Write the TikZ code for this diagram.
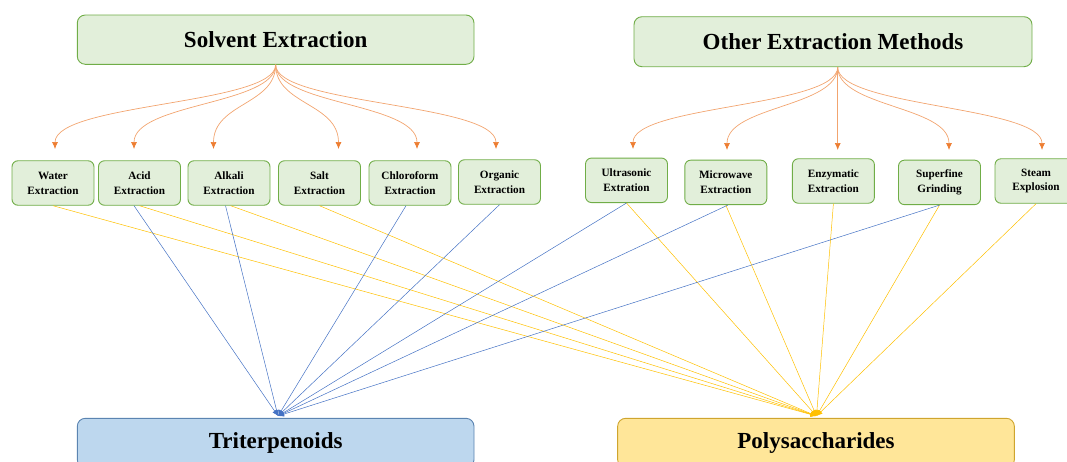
\documentclass[tikz,border=0pt]{standalone}
\makeatletter
\newif\ifpalat
\IfFileExists{t1ppl.fd}{\IfFileExists{pplb8t.tfm}{\palattrue}{}}{}
\ifpalat
  \usepackage[T1]{fontenc}
  \renewcommand{\rmdefault}{ppl}
\else
  \usepackage{fontspec}
  \setmainfont{Liberation Serif}
\fi
\makeatother
\usetikzlibrary{arrows.meta}
\definecolor{gfill}{HTML}{E2EFDA}
\definecolor{gdraw}{HTML}{70AD47}
\definecolor{bfill}{HTML}{BDD7EE}
\definecolor{bdraw}{HTML}{5B84B1}
\definecolor{yfill}{HTML}{FFE699}
\definecolor{ydraw}{HTML}{CFA52E}
\definecolor{bline}{HTML}{4472C4}
\definecolor{yline}{HTML}{FFC000}
\definecolor{oline}{HTML}{ED7D31}
\tikzset{
  titlebox/.style={draw=gdraw, fill=gfill, line width=0.9pt, rounded corners=8pt,
    inner sep=0pt, font=\fontsize{23}{27}\selectfont\bfseries},
  resbox/.style={line width=0.9pt, rounded corners=8pt, inner sep=0pt,
    minimum width=396.7pt, minimum height=49.4pt, font=\fontsize{23}{27}\selectfont\bfseries},
  methodbox/.style={draw=gdraw, fill=gfill, line width=0.9pt, rounded corners=6pt,
    inner sep=0pt, minimum width=82pt, minimum height=44.5pt, align=center,
    font=\fontsize{11.2}{14.8}\selectfont\bfseries},
  fanarrow/.style={draw=oline!70!white, line width=0.7pt,
    -{Latex[length=7pt,width=6pt,color=oline]}},
  tline/.style={draw=bline, line width=0.5pt, -{Latex[length=6pt,width=5pt]}},
  pline/.style={draw=yline, line width=0.5pt, -{Latex[length=6pt,width=5pt]}}
}
\begin{document}
\begin{tikzpicture}[x=1pt,y=-1pt]
\useasboundingbox (0,0) rectangle (1067,461);
% title boxes
\node[titlebox, minimum width=396.7pt, minimum height=49.3pt] (solv) at (275.65,39.65) {Solvent Extraction};
\node[titlebox, minimum width=398pt, minimum height=50pt] (other) at (833,41.7) {Other Extraction Methods};
% result boxes
\node[resbox, draw=bdraw, fill=bfill] (tri) at (275.65,443) {Triterpenoids};
\node[resbox, draw=ydraw, fill=yfill] (poly) at (816,443) {Polysaccharides};
% method boxes
\node[methodbox] (water) at (53,183) {Water\\Extraction};
\node[methodbox] (acid) at (139.5,183) {Acid\\Extraction};
\node[methodbox] (alkali) at (229,183) {Alkali\\Extraction};
\node[methodbox] (salt) at (319.5,183) {Salt\\Extraction};
\node[methodbox] (chloro) at (410,183) {Chloroform\\Extraction};
\node[methodbox] (organic) at (499.5,182) {Organic\\Extraction};
\node[methodbox] (ultra) at (626.5,180.3) {Ultrasonic\\Extration};
\node[methodbox] (micro) at (725.8,182.4) {Microwave\\Extraction};
\node[methodbox] (enzy) at (833.4,181) {Enzymatic\\Extraction};
\node[methodbox] (super) at (939.5,182.4) {Superfine\\Grinding};
\node[methodbox] (steam) at (1036,181) {Steam\\Explosion};
% fan origins and tips
\coordinate (o1) at (solv.south);
\coordinate (o2) at ([xshift=4.7pt]other.south);
\coordinate (t1) at (55,149);
\coordinate (t2) at (134,149);
\coordinate (t3) at (213.5,149);
\coordinate (t4) at (338.5,149);
\coordinate (t5) at (417,149);
\coordinate (t6) at (496,149);
\coordinate (t7) at (633,149);
\coordinate (t8) at (727,150);
\coordinate (t9) at (837.7,150);
\coordinate (t10) at (949,150);
\coordinate (t11) at (1042,150);
\foreach \t in {t1,t2,t3,t4,t5,t6}{
  \draw[fanarrow] (o1) .. controls +(0,40) and +(0,-46) .. (\t);
}
\foreach \t in {t7,t8,t10,t11}{
  \draw[fanarrow] (o2) .. controls +(0,40) and +(0,-44) .. (\t);
}
\draw[fanarrow] (o2) -- (t9);
% convergence points
\coordinate (tp) at (278,416);
\coordinate (pp) at (816.5,416);
% lines to polysaccharides
\draw[pline] (water.south) -- (pp);
\draw[pline] (acid.south) -- (pp);
\draw[pline] ([xshift=1.7pt]alkali.south) -- (pp);
\draw[pline] (salt.south) -- (pp);
\draw[pline] (ultra.south) -- (pp);
\draw[pline] (micro.south) -- (pp);
\draw[pline] (enzy.south) -- (pp);
\draw[pline] (super.south) -- (pp);
\draw[pline] (steam.south) -- (pp);
% lines to triterpenoids
\draw[tline] ([xshift=-5.5pt]acid.south) -- (tp);
\draw[tline] ([xshift=-3.5pt]alkali.south) -- (tp);
\draw[tline] ([xshift=-4pt]chloro.south) -- (tp);
\draw[tline] (organic.south) -- (tp);
\draw[tline] (ultra.south) -- (tp);
\draw[tline] ([xshift=2pt]micro.south) -- (tp);
\draw[tline] (super.south) -- (tp);
\end{tikzpicture}
\end{document}
